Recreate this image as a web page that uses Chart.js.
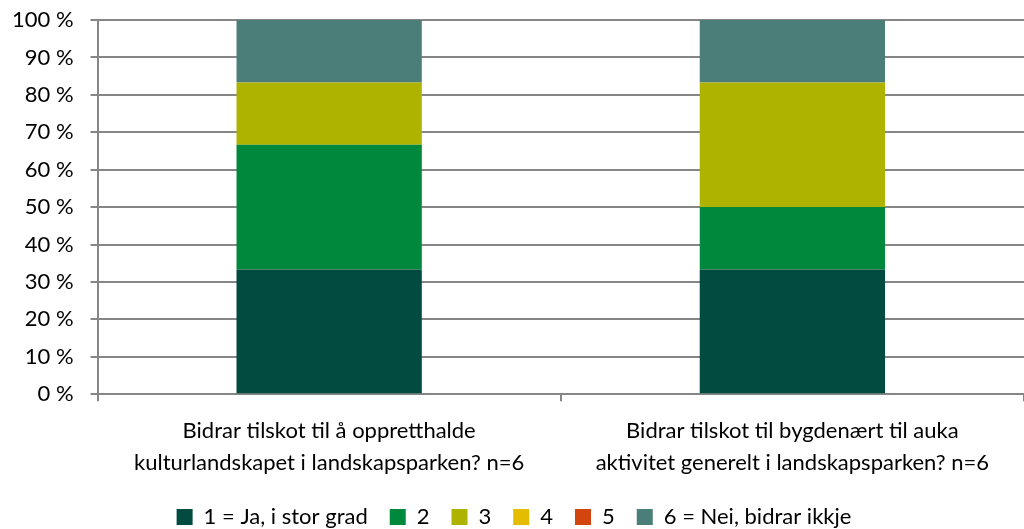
<!DOCTYPE html>
<html>
<head>
<meta charset="utf-8">
<script src="https://cdn.jsdelivr.net/npm/chart.js@4"></script>
<style>
html,body{margin:0;padding:0;background:#fff;overflow:hidden;}
#wrap{position:relative;width:1024px;height:529px;}
</style>
</head>
<body>
<div id="wrap"><canvas id="c"></canvas></div>
<script>
const categories = [
  ["Bidrar tilskot til å oppretthalde", "kulturlandskapet i landskapsparken? n=6"],
  ["Bidrar tilskot til bygdenært til auka", "aktivitet generelt i landskapsparken? n=6"]
];
const seriesNames = ["1 = Ja, i stor grad", "2", "3", "4", "5", "6 = Nei, bidrar ikkje"];
const s1 = [33.33, 33.33];
const s2 = [33.33, 16.67];
const s3 = [16.67, 33.33];
const s4 = [0, 0];
const s5 = [0, 0];
const s6 = [16.67, 16.67];
const colors = ["#024B41", "#00893C", "#AEB300", "#E5BD00", "#D3450F", "#4C7E79"];
const seriesValues = [s1, s2, s3, s4, s5, s6];
const yTicks = [0,10,20,30,40,50,60,70,80,90,100];

const FONT = "Lato, 'Open Sans', sans-serif";
new Chart(document.getElementById('c'), {
  type: 'bar',
  data: {
    labels: categories,
    datasets: seriesNames.map((n, i) => ({
      label: n,
      data: seriesValues[i],
      backgroundColor: colors[i],
      borderWidth: 0,
      barPercentage: 0.4,
      categoryPercentage: 1.0
    }))
  },
  options: {
    responsive: true,
    maintainAspectRatio: false,
    animation: false,
    layout: { padding: { top: 20, right: -9, left: -5, bottom: -9 } },
    plugins: {
      tooltip: { enabled: false },
      legend: {
        position: 'bottom',
        labels: {
          boxWidth: 16, boxHeight: 16, padding: 22,
          color: '#000',
          font: { family: FONT, size: 22 }
        }
      }
    },
    scales: {
      x: {
        stacked: true,
        afterFit: (s) => { s.height -= 9; },
        border: { color: '#868686', width: 2 },
        grid: { display: true, drawOnChartArea: false, drawTicks: true, tickLength: 7, color: '#868686', lineWidth: 2, offset: true },
        ticks: { color: '#000', font: { family: FONT, size: 22, lineHeight: 1.45 }, padding: 14, maxRotation: 0, autoSkip: false }
      },
      y: {
        stacked: true,
        min: 0, max: 100,
        afterFit: (s) => { s.paddingTop = 0; s.paddingBottom = 0; },
        afterBuildTicks: (s) => { s.ticks = yTicks.map(v => ({ value: v })); },
        border: { color: '#868686', width: 2 },
        grid: { color: '#868686', lineWidth: 2, tickLength: 7, drawTicks: true },
        ticks: { color: '#000', font: { family: FONT, size: 22 }, padding: 17, callback: (v) => v + ' %' }
      }
    }
  }
});
</script>
</body>
</html>
